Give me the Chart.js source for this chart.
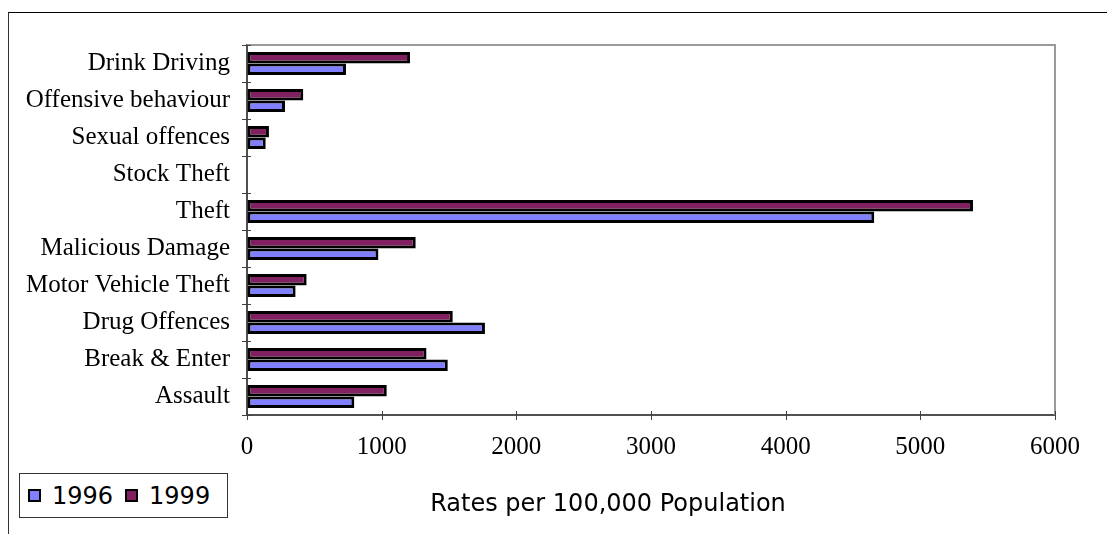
<!DOCTYPE html>
<html>
<head>
<meta charset="utf-8">
<title>Offence rates 1996 and 1999</title>
<script src="https://cdn.jsdelivr.net/npm/chart.js@4"></script>
<style>
  html, body { margin: 0; padding: 0; background: #fff; }
  #wrap { position: relative; width: 1107px; height: 534px; overflow: hidden; background: #fff; }
  #frame { position: absolute; left: 8px; top: 12px; width: 1300px; height: 700px;
           border-top: 1px solid #000; border-left: 1px solid #333; }
  #chart { position: absolute; left: 0; top: 0; }
  #legend { position: absolute; left: 19px; top: 473px; width: 209px; height: 45px;
            box-sizing: border-box; border: 1px solid #333; background: #fff;
            font: 24px "DejaVu Sans", Verdana, sans-serif; color: #000;
            display: flex; align-items: center; padding-left: 8px; white-space: nowrap; }
  .sw { display: inline-block; width: 9px; height: 9px; border: 2.5px solid #000; margin-right: 11px; }
  .item { display: inline-flex; align-items: center; margin-right: 12px; }
  #xtitle { position: absolute; left: 608px; top: 489px; transform: translateX(-50%);
            font: 24px "DejaVu Sans", Verdana, sans-serif; color: #000; white-space: nowrap; }
</style>
</head>
<body>
<div id="wrap">
  <div id="frame"></div>
  <canvas id="chart" width="1107" height="534"></canvas>
  <div id="legend"></div>
  <div id="xtitle"></div>
</div>
<script>
// Offence categories, listed top to bottom
const categories = [
  'Drink Driving', 'Offensive behaviour', 'Sexual offences', 'Stock Theft', 'Theft',
  'Malicious Damage', 'Motor Vehicle Theft', 'Drug Offences', 'Break & Enter', 'Assault'
];
// Rates per 100,000 population
const rates1996 = [735, 282, 139, 0, 4658, 976, 361, 1767, 1491, 797];
const rates1999 = [1211, 418, 163, 0, 5391, 1253, 443, 1528, 1333, 1038];
const seriesNames = ['1996', '1999'];
const seriesColors = ['#8080FF', '#802060'];
const xTicks = [0, 1000, 2000, 3000, 4000, 5000, 6000];
const xAxisTitle = 'Rates per 100,000 Population';

// Plot frame (top/right border) and tick marks that cross the axes
const framePlugin = {
  id: 'frameTicks',
  afterDraw(chart) {
    const { ctx, chartArea: a, scales: { x, y } } = chart;
    ctx.save();
    ctx.strokeStyle = '#9a9a9a';
    ctx.lineWidth = 2;
    ctx.beginPath();
    ctx.moveTo(a.left, a.top);
    ctx.lineTo(a.right, a.top);
    ctx.lineTo(a.right, a.bottom);
    ctx.stroke();

    ctx.strokeStyle = '#404040';
    ctx.lineWidth = 1;
    ctx.beginPath();
    for (let i = 0; i <= categories.length; i++) {
      const py = Math.round(y.getPixelForValue(i - 0.5)) + 0.5;
      ctx.moveTo(a.left - 5, py);
      ctx.lineTo(a.left + 4, py);
    }
    x.ticks.forEach(t => {
      const px = Math.round(x.getPixelForValue(t.value)) + 0.5;
      ctx.moveTo(px, a.bottom - 4);
      ctx.lineTo(px, a.bottom + 5);
    });
    ctx.stroke();
    ctx.restore();
  }
};

const ctx = document.getElementById('chart').getContext('2d');
new Chart(ctx, {
  type: 'bar',
  data: {
    labels: categories,
    // 1999 is listed first so it sits above 1996 within each category
    datasets: [
      { label: seriesNames[1], data: rates1999, backgroundColor: seriesColors[1] },
      { label: seriesNames[0], data: rates1996, backgroundColor: seriesColors[0] }
    ]
  },
  options: {
    indexAxis: 'y',
    responsive: false,
    animation: false,
    events: [],
    layout: { padding: { left: 0, top: 45, right: 52, bottom: 0 } },
    datasets: {
      bar: {
        categoryPercentage: 0.62,
        barPercentage: 1.0,
        borderColor: '#000',
        borderWidth: 3,
        borderSkipped: false
      }
    },
    plugins: {
      legend: { display: false },
      tooltip: { enabled: false },
      title: { display: false }
    },
    scales: {
      x: {
        type: 'linear',
        min: xTicks[0],
        max: xTicks[xTicks.length - 1],
        afterBuildTicks(scale) { scale.ticks = xTicks.map(v => ({ value: v })); },
        afterFit(scale) { scale.height = 119; },
        grid: { display: true, drawOnChartArea: false, drawTicks: false },
        border: { display: true, color: '#505050', width: 2 },
        ticks: {
          color: '#000',
          padding: 17,
          maxRotation: 0,
          font: { family: '"Liberation Serif", "Times New Roman", serif', size: 25 },
          callback: v => String(v)
        }
      },
      y: {
        type: 'category',
        afterFit(scale) { scale.width = 247; },
        grid: { display: true, drawOnChartArea: false, drawTicks: false, offset: true },
        border: { display: true, color: '#505050', width: 2 },
        ticks: {
          color: '#000',
          padding: 17,
          font: { family: '"Liberation Serif", "Times New Roman", serif', size: 25 }
        }
      }
    }
  },
  plugins: [framePlugin]
});

// Legend and axis title as page text
const legend = document.getElementById('legend');
seriesNames.forEach((name, i) => {
  const item = document.createElement('span');
  item.className = 'item';
  const sw = document.createElement('span');
  sw.className = 'sw';
  sw.style.background = seriesColors[i];
  item.appendChild(sw);
  item.appendChild(document.createTextNode(name));
  legend.appendChild(item);
});
document.getElementById('xtitle').textContent = xAxisTitle;
</script>
</body>
</html>
